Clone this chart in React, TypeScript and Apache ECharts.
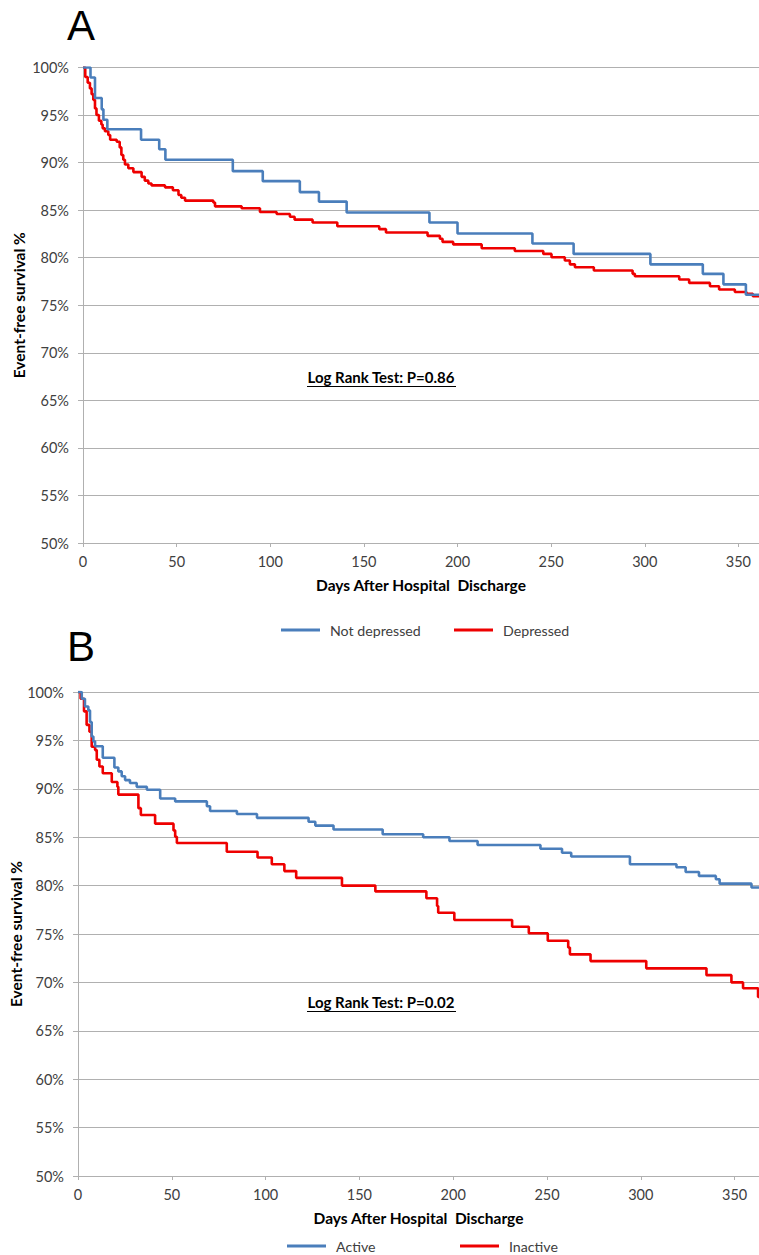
import React, { useEffect, useRef } from "react";
import * as echarts from "echarts";

// ---------- data ----------
const panelLabels = ["A", "B"];
const xAxisTitle = "Days After Hospital  Discharge";
const yAxisTitle = "Event-free survival %";
const logRankA = "Log Rank Test: P=0.86";
const logRankB = "Log Rank Test: P=0.02";

// Panel A: [day, event-free survival %]
const notDepressed: [number, number][] = [
  [0, 100], [4, 98.95], [6.4, 96.8], [10, 95.6], [10.9, 94.5], [13, 93.5],
  [31, 92.4], [40.7, 91.4], [44, 90.3], [80, 89.1], [96, 88.05], [115.8, 86.9],
  [126, 85.9], [140.8, 84.76], [185, 83.7], [200, 82.55], [240, 81.5],
  [262, 80.4], [303, 79.3], [331, 78.3], [342, 77.2], [354, 76.1], [361, 76.1],
];
const depressed: [number, number][] = [
  [0, 100], [1.2, 99.0], [2.5, 98.4], [3.7, 97.8], [4.6, 97.2], [5.5, 96.6],
  [6.4, 95.7], [7.2, 95.0], [8.5, 94.4], [9.8, 94.0], [10.5, 93.6], [11.7, 93.3],
  [13.5, 92.9], [14.5, 92.4], [18, 92.2], [19.6, 91.6], [20.5, 90.8], [21.5, 90.3],
  [22.4, 89.8], [24.2, 89.4], [26.9, 89.0], [31.3, 88.5], [33, 88.1], [34.9, 87.8],
  [36.6, 87.6], [43.8, 87.4], [48, 87.1], [51, 86.6], [52.5, 86.3], [54.5, 86.0],
  [69.6, 85.8], [70.5, 85.4], [84.7, 85.2], [94.5, 84.8], [103.4, 84.6],
  [110.5, 84.3], [113, 84.0], [122.6, 83.7], [135.8, 83.3], [158.2, 83.0],
  [161.8, 82.65], [184, 82.3], [190.6, 82.0], [192, 81.66], [197.7, 81.4],
  [212.9, 81.0], [230.6, 80.7], [245.8, 80.4], [250.2, 80.05], [257.3, 79.7],
  [260, 79.3], [262.7, 79.0], [272.8, 78.65], [293.5, 78.3], [294.7, 78.05],
  [318.4, 77.7], [323.7, 77.35], [334.8, 77.0], [339.7, 76.65], [348.1, 76.4],
  [354.3, 76.2], [357.7, 75.95], [361, 75.95],
];

// Panel B
const active: [number, number][] = [
  [0, 100], [2, 99.3], [3.7, 98.5], [5.5, 98.1], [6.4, 96.9], [7.3, 95.4],
  [8.2, 94.9], [9.1, 94.4], [13.2, 93.2], [19.4, 92.2], [21.5, 91.8],
  [23.3, 91.3], [25.1, 90.9], [27.7, 90.6], [31.3, 90.2], [36.7, 89.9],
  [43.8, 89.0], [51.8, 88.7], [68.7, 88.2], [70.4, 87.7], [84.7, 87.4],
  [95.4, 87.0], [122.9, 86.6], [126.5, 86.2], [136.2, 85.8], [162.4, 85.3],
  [184, 85.0], [198, 84.6], [213, 84.2], [246.5, 83.8], [258, 83.4],
  [262.9, 83.0], [294.2, 82.2], [319, 81.9], [323.9, 81.4], [331, 81.0],
  [340, 80.65], [342, 80.2], [359, 79.8], [363, 79.8],
];
const inactive: [number, number][] = [
  [0, 100], [1.4, 99.3], [3.2, 98.0], [4.6, 96.6], [6.1, 95.9], [7.3, 94.35],
  [9.1, 94.0], [10, 93.0], [11.4, 92.3], [13.2, 91.6], [18, 90.7], [21, 90.2],
  [21.5, 89.4], [32.2, 88.0], [33.5, 87.3], [41.1, 86.4], [50.9, 85.7],
  [51.8, 85.05], [52.7, 84.4], [79.3, 83.5], [95.7, 82.9], [103.3, 82.2],
  [110, 81.5], [116.3, 80.8], [140.7, 80.0], [158.5, 79.4], [185.7, 78.7],
  [191.4, 77.9], [192, 77.2], [200.6, 76.45], [231.4, 75.75], [240.3, 75.07],
  [250.4, 74.3], [261.3, 73.6], [262.2, 72.9], [273.2, 72.2], [302.9, 71.45],
  [335, 70.75], [348.3, 70.0], [354.5, 69.4], [362.5, 68.5], [363, 68.5],
];

// ---------- styles ----------
const FONT = "Lato";
const BLUE = "#4a7ebb";
const RED = "#ee0000";
const GRID_COLOR = "#b0b0b0";
const LABEL_COLOR = "#404040";

function xAxisDef(gridIndex: number, max: number) {
  return {
    type: "value",
    gridIndex,
    min: 0,
    max,
    interval: 50,
    name: xAxisTitle,
    nameLocation: "middle",
    nameGap: 34,
    nameMoveOverlap: false,
    nameTextStyle: { fontFamily: FONT, fontSize: 15.5, fontWeight: "bold", color: "#000" },
    axisLine: { show: true, lineStyle: { color: GRID_COLOR, width: 1 } },
    axisTick: { show: true, length: 4, lineStyle: { color: GRID_COLOR } },
    axisLabel: {
      margin: 11,
      fontFamily: FONT,
      fontSize: 14.5,
      color: LABEL_COLOR,
      formatter: (v: number) => (v % 50 === 0 ? String(v) : ""),
    },
    splitLine: { show: false },
  };
}

function yAxisDef(gridIndex: number, nameGap: number) {
  return {
    type: "value",
    gridIndex,
    min: 50,
    max: 100,
    interval: 5,
    name: yAxisTitle,
    nameLocation: "middle",
    nameRotate: 90,
    nameGap,
    nameMoveOverlap: false,
    nameTextStyle: { fontFamily: FONT, fontSize: 15.5, fontWeight: "bold", color: "#000" },
    axisLine: { show: true, lineStyle: { color: GRID_COLOR, width: 1 } },
    axisTick: { show: true, length: 5, lineStyle: { color: GRID_COLOR } },
    axisLabel: {
      margin: 14,
      fontFamily: FONT,
      fontSize: 14.5,
      color: LABEL_COLOR,
      formatter: "{value}%",
    },
    splitLine: { show: true, lineStyle: { color: GRID_COLOR, width: 1 } },
  };
}

function stepSeries(name: string, data: [number, number][], color: string, idx: number) {
  return {
    name,
    type: "line",
    step: "end",
    xAxisIndex: idx,
    yAxisIndex: idx,
    data,
    symbol: "none",
    color,
    lineStyle: { color, width: 2.6 },
    z: color === RED ? 3 : 4,
  };
}

function legendDef(name: string, left: number, top: number) {
  return {
    data: [name],
    left,
    top,
    icon: "rect",
    itemWidth: 39,
    itemHeight: 3,
    textStyle: {
      fontFamily: FONT,
      fontSize: 14.2,
      color: LABEL_COLOR,
      padding: [0, 0, 0, 5],
      lineHeight: 16,
    },
    selectedMode: false,
  };
}

export default function App() {
  const ref = useRef<HTMLDivElement>(null);
  useEffect(() => {
    if (!ref.current) return;
    const chart = echarts.init(ref.current, null, { renderer: "svg" });
    chart.setOption({
      animation: false,
      backgroundColor: "#ffffff",
      grid: [
        { left: 83, top: 67.5, width: 676, height: 475.5, containLabel: false, outerBoundsMode: "none" },
        { left: 78, top: 692, width: 681, height: 484, containLabel: false, outerBoundsMode: "none" },
      ],
      xAxis: [xAxisDef(0, 361), xAxisDef(1, 363)],
      yAxis: [yAxisDef(0, 56), yAxisDef(1, 54)],
      legend: [
        legendDef("Not depressed", 276, 617),
        legendDef("Depressed", 449, 617),
        legendDef("Active", 282, 1233),
        legendDef("Inactive", 455, 1233),
      ],
      series: [
        stepSeries("Not depressed", notDepressed, BLUE, 0),
        stepSeries("Depressed", depressed, RED, 0),
        stepSeries("Active", active, BLUE, 1),
        stepSeries("Inactive", inactive, RED, 1),
      ],
      graphic: [
        {
          type: "text",
          left: 67,
          top: 4,
          style: { text: panelLabels[0], fontFamily: "Liberation Sans", fontSize: 42, fill: "#000" },
        },
        {
          type: "text",
          left: 67,
          top: 625,
          style: { text: panelLabels[1], fontFamily: "Liberation Sans", fontSize: 42, fill: "#000" },
        },
        {
          type: "text",
          x: 381,
          y: 377,
          style: {
            text: logRankA,
            fontFamily: FONT,
            fontSize: 15,
            fontWeight: "bold",
            fill: "#000",
            align: "center",
            verticalAlign: "middle",
          },
        },
        {
          type: "line",
          shape: { x1: 307, y1: 386.5, x2: 456, y2: 386.5 },
          style: { stroke: "#000", lineWidth: 1 },
        },
        {
          type: "text",
          x: 381,
          y: 1002,
          style: {
            text: logRankB,
            fontFamily: FONT,
            fontSize: 15,
            fontWeight: "bold",
            fill: "#000",
            align: "center",
            verticalAlign: "middle",
          },
        },
        {
          type: "line",
          shape: { x1: 307, y1: 1011.5, x2: 456, y2: 1011.5 },
          style: { stroke: "#000", lineWidth: 1 },
        },
      ],
    });
    return () => chart.dispose();
  }, []);
  return (
    <div
      ref={ref}
      style={{ position: "absolute", left: 0, top: 0, width: 759, height: 1255 }}
    />
  );
}
